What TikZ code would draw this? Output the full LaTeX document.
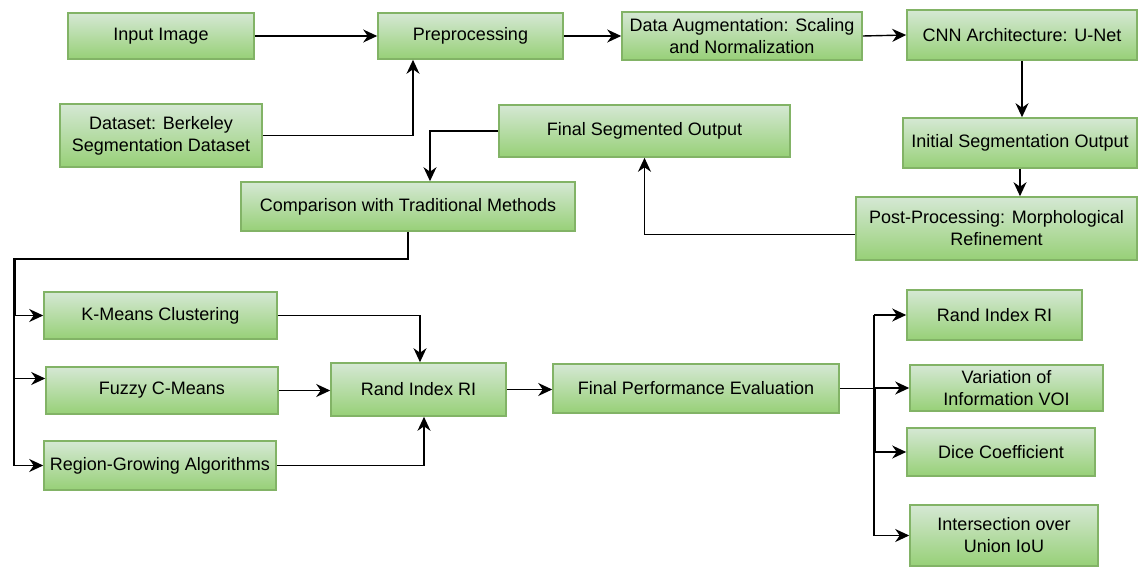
\documentclass[tikz,border=0pt]{standalone}
\usepackage{fontspec}
\setmainfont{Liberation Sans}
\usetikzlibrary{arrows.meta}
\definecolor{boxtop}{HTML}{D5E8D4}
\definecolor{boxbot}{HTML}{97D077}
\definecolor{boxline}{HTML}{82B366}
\tikzset{
  stagebox/.style={draw=boxline, line width=1.6pt, top color=boxtop, bottom color=boxbot,
    inner sep=0pt, align=center, font=\fontsize{18}{22}\selectfont},
  link/.style={draw=black, line width=1.4pt},
  flow/.style={link, -{Stealth[length=14pt,width=13pt,inset=4.5pt]}}
}
\begin{document}
\begin{tikzpicture}[x=1pt,y=-1pt]
\useasboundingbox (0,0) rectangle (1138,567);

% pipeline stages
\node[stagebox, minimum width=186pt, minimum height=46pt] (in)   at (161,36)    {Input Image};
\node[stagebox, minimum width=202pt, minimum height=63pt] (ds)   at (161,135.5) {Dataset: Berkeley\\Segmentation Dataset};
\node[stagebox, minimum width=185pt, minimum height=46pt] (pre)  at (470.5,36)  {Preprocessing};
\node[stagebox, minimum width=240pt, minimum height=48pt] (da)   at (742,36)    {Data Augmentation: Scaling\\and Normalization};
\node[stagebox, minimum width=230pt, minimum height=50pt] (cnn)  at (1022,35)   {CNN Architecture: U-Net};
\node[stagebox, minimum width=291pt, minimum height=52pt] (fso)  at (644.5,131) {Final Segmented Output};
\node[stagebox, minimum width=234pt, minimum height=50pt] (iso)  at (1020,143)  {Initial Segmentation Output};
\node[stagebox, minimum width=281pt, minimum height=63pt] (post) at (996.5,228.5) {Post-Processing: Morphological\\Refinement};
\node[stagebox, minimum width=334pt, minimum height=49pt] (cmp)  at (408,206.5) {Comparison with Traditional Methods};

% traditional methods
\node[stagebox, minimum width=233pt, minimum height=47pt] (km)  at (160.5,315.5) {K-Means Clustering};
\node[stagebox, minimum width=232pt, minimum height=47pt] (fcm) at (162,390.5)   {Fuzzy C-Means};
\node[stagebox, minimum width=232pt, minimum height=49pt] (rg)  at (160,465.5)   {Region-Growing Algorithms};
\node[stagebox, minimum width=175pt, minimum height=53pt] (ri)  at (418.5,389.5) {Rand Index RI};
\node[stagebox, minimum width=286pt, minimum height=49pt] (fpe) at (696,388.5)   {Final Performance Evaluation};

% evaluation metrics
\node[stagebox, minimum width=175pt, minimum height=50pt] (ri2)  at (994.5,315)  {Rand Index RI};
\node[stagebox, minimum width=193pt, minimum height=46pt] (voi)  at (1006.5,388) {Variation of\\Information VOI};
\node[stagebox, minimum width=188pt, minimum height=48pt] (dice) at (1001,452)   {Dice Coefficient};
\node[stagebox, minimum width=188pt, minimum height=61pt] (iou)  at (1004,535.5) {Intersection over\\Union IoU};

% routing points
\coordinate (c413) at (413,0);
\coordinate (c430) at (430,0);
\coordinate (c420) at (420,0);
\coordinate (c424) at (424,0);
\coordinate (bt)   at (14,259);
\coordinate (bt2)  at (15.5,259);
\coordinate (b2)   at (874,0);
\coordinate (b3)   at (875.5,0);
\coordinate (fcmin) at ([yshift=12pt]fcm.west);

% top row
\draw[flow] (in.east) -- (pre.west);
\draw[flow] (ds.east) -| (c413 |- pre.south);
\draw[flow] (pre.east) -- (da.west);
\draw[flow] (da.east) -- (cnn.west);
\draw[flow] (cnn.south) -- (cnn.south |- iso.north);
\draw[flow] (iso.south) -- (iso.south |- post.north);
\draw[flow] ([yshift=-6pt]post.west) -| (fso.south);
\draw[flow] (fso.west) -| (c430 |- cmp.north);

% fan-out to traditional methods
\draw[link] (cmp.south) |- (bt) -- (bt |- rg.west);
\draw[link] (bt2) -- (bt2 |- km.west);
\draw[flow] (bt |- km.west) -- (km.west);
\draw[flow] (bt |- fcmin) -- (fcmin);
\draw[flow] (bt |- rg.west) -- (rg.west);

% merge into Rand Index
\draw[flow] (km.east) -| (c420 |- ri.north);
\draw[flow] (fcm.east) -- (fcm.east -| ri.west);
\draw[flow] (rg.east) -| (c424 |- ri.south);
\draw[flow] (ri.east) -- (ri.east -| fpe.west);

% fan-out to metrics
\draw[link] (fpe.east) -- (b2 |- fpe.east);
\draw[link] (b2 |- ri2.west) -- (b2 |- iou.west);
\draw[link] (b3 |- fpe.east) -- (b3 |- dice.west);
\draw[flow] (b2 |- ri2.west) -- (ri2.west);
\draw[flow] (b2 |- voi.west) -- (voi.west);
\draw[flow] (b2 |- dice.west) -- (dice.west);
\draw[flow] (b2 |- iou.west) -- (iou.west);
\end{tikzpicture}
\end{document}
